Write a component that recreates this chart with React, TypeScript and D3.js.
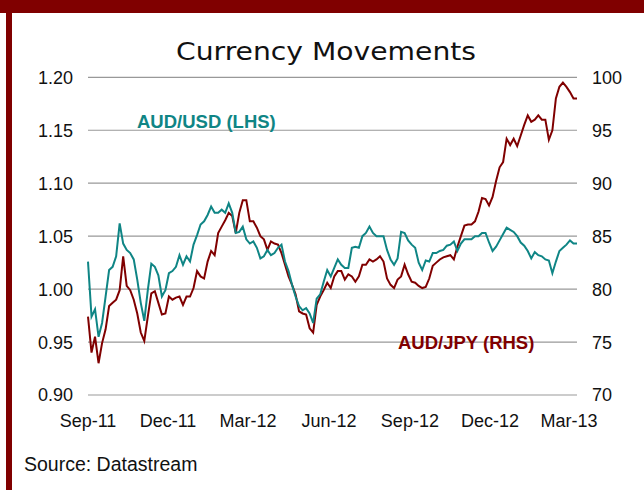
import React from 'react';
import * as d3 from 'd3';

// ---- data (sampled every 4 days from 1 Sep 2011) ----
const START = new Date(2011, 8, 1);
const END = new Date(2013, 2, 10);
const STEP_DAYS = 4;

const audUsd = [
  1.026, 0.974, 0.981, 0.955, 0.968, 0.993, 1.018, 1.021, 1.031, 1.062, 1.043, 1.037,
  1.034, 1.028, 1.009, 0.987, 0.970, 0.999, 1.024, 1.021, 1.013, 0.993, 0.999, 1.015,
  1.017, 1.021, 1.032, 1.023, 1.031, 1.026, 1.042, 1.051, 1.061, 1.064, 1.070, 1.078,
  1.072, 1.072, 1.075, 1.072, 1.081, 1.072, 1.053, 1.054, 1.059, 1.047, 1.043, 1.045,
  1.039, 1.029, 1.031, 1.037, 1.032, 1.034, 1.039, 1.042, 1.026, 1.017, 1.004, 0.993,
  0.984, 0.980, 0.982, 0.977, 0.968, 0.991, 0.995, 1.007, 1.018, 1.012, 1.020, 1.028,
  1.023, 1.020, 1.020, 1.039, 1.040, 1.039, 1.050, 1.053, 1.059, 1.053, 1.050, 1.050,
  1.050, 1.037, 1.028, 1.023, 1.029, 1.054, 1.053, 1.046, 1.042, 1.039,
  1.025, 1.018, 1.027, 1.026, 1.034, 1.034, 1.036, 1.037, 1.041, 1.042, 1.045, 1.036,
  1.043, 1.047, 1.047, 1.047, 1.050, 1.050, 1.053, 1.053, 1.044, 1.036, 1.040, 1.046,
  1.052, 1.058, 1.056, 1.054, 1.050, 1.044, 1.041, 1.036, 1.029, 1.035, 1.032, 1.031,
  1.028, 1.027, 1.015, 1.026, 1.036, 1.039, 1.042, 1.046, 1.043, 1.043,
];

const audJpy = [
  77.4, 74.0, 75.5, 73.0, 74.9, 76.2, 78.4, 78.7, 79.0, 79.9, 83.1, 80.3,
  79.9, 79.0, 77.7, 75.9, 75.1, 77.4, 79.6, 79.8, 78.7, 77.6, 77.7, 79.3,
  79.0, 79.2, 79.3, 78.5, 79.3, 79.3, 80.1, 81.7, 81.2, 81.0, 82.6, 83.6,
  83.2, 85.3, 85.9, 86.5, 87.2, 86.9, 85.3, 87.2, 88.4, 88.4, 86.4, 86.4,
  85.8, 85.0, 84.7, 83.7, 84.5, 84.3, 84.2, 83.4, 82.3, 81.2, 80.4, 79.5,
  77.9, 77.7, 77.6, 76.3, 75.9, 78.5, 79.3, 79.9, 80.6, 80.1, 81.2, 81.7,
  81.7, 80.9, 81.4, 81.2, 80.7, 81.2, 82.3, 82.3, 82.8, 82.6, 82.8, 83.1,
  82.6, 81.0, 80.4, 80.1, 80.9, 81.2, 82.3, 81.4, 80.7, 80.6,
  80.3, 80.1, 80.2, 81.0, 82.2, 82.5, 82.8, 83.0, 83.1, 83.2, 82.8, 84.0,
  85.0, 86.0, 86.1, 86.1, 86.4, 87.3, 88.6, 88.5, 87.9, 88.7, 90.2, 91.5,
  92.0, 94.2, 93.6, 94.2, 93.5, 94.5, 95.5, 96.4, 95.8, 96.0, 96.4, 96.0,
  96.0, 94.1, 95.0, 98.0, 99.1, 99.5, 99.1, 98.6, 98.0, 98.0,
];

const leftTicks = [0.9, 0.95, 1.0, 1.05, 1.1, 1.15, 1.2];
const rightTicks = [70, 75, 80, 85, 90, 95, 100];
const xTickLabels = ['Sep-11', 'Dec-11', 'Mar-12', 'Jun-12', 'Sep-12', 'Dec-12', 'Mar-13'];
const xTickDates = [
  new Date(2011, 8, 1), new Date(2011, 11, 1), new Date(2012, 2, 1), new Date(2012, 5, 1),
  new Date(2012, 8, 1), new Date(2012, 11, 1), new Date(2013, 2, 1),
];

const TEAL = '#0f8585';
const MAROON = '#800000';
const FONT = '"Liberation Sans", Arial, sans-serif';

export default function App() {
  const W = 644;
  const H = 490;
  const left = 88;
  const right = 577;
  const top = 77.3;
  const bottom = 395;

  const x = d3.scaleTime().domain([START, END]).range([left, right]);
  const yL = d3.scaleLinear().domain([0.9, 1.2]).range([bottom, top]);
  const yR = d3.scaleLinear().domain([70, 100]).range([bottom, top]);

  const dates = audUsd.map((_, i) => d3.timeDay.offset(START, i * STEP_DAYS));

  const usdLine = d3.line<number>().x((_, i) => x(dates[i])).y((d) => yL(d));
  const jpyLine = d3.line<number>().x((_, i) => x(dates[i])).y((d) => yR(d));

  return (
    <svg
      width={W}
      height={H}
      style={{ position: 'absolute', left: 0, top: 0, background: '#fff' }}
      fontFamily={FONT}
    >
      <rect x={0} y={0} width={W} height={H} fill="#fff" />
      <rect x={0} y={0} width={W} height={13} fill={MAROON} />
      <rect x={6} y={0} width={6} height={H} fill={MAROON} />

      <text
        x={326}
        y={60}
        textAnchor="middle"
        fontSize={25}
        fontFamily='"DejaVu Sans", sans-serif'
        fill="#111"
        textLength={300}
        lengthAdjust="spacingAndGlyphs"
      >
        Currency Movements
      </text>

      {leftTicks.map((t) => (
        <line key={'g' + t} x1={left} x2={right} y1={yL(t)} y2={yL(t)} stroke="#999" strokeWidth={1.2} />
      ))}

      {leftTicks.map((t) => (
        <text key={'l' + t} x={73} y={yL(t)} dy="0.36em" textAnchor="end" fontSize={18} fill="#111">
          {d3.format('.2f')(t)}
        </text>
      ))}
      {rightTicks.map((t) => (
        <text key={'r' + t} x={592} y={yR(t)} dy="0.36em" textAnchor="start" fontSize={18} fill="#111">
          {t}
        </text>
      ))}
      {xTickDates.map((d, i) => (
        <text key={'x' + i} x={x(d)} y={427} textAnchor="middle" fontSize={18} fill="#111">
          {xTickLabels[i]}
        </text>
      ))}

      <path d={jpyLine(audJpy) || ''} fill="none" stroke={MAROON} strokeWidth={2} strokeLinejoin="miter" />
      <path d={usdLine(audUsd) || ''} fill="none" stroke={TEAL} strokeWidth={2} strokeLinejoin="miter" />

      <text x={137} y={128} fontSize={18.5} fontWeight="bold" fill={TEAL}>
        AUD/USD (LHS)
      </text>
      <text x={398} y={349} fontSize={18.5} fontWeight="bold" fill={MAROON}>
        AUD/JPY (RHS)
      </text>

      <text x={24} y={471} fontSize={19.5} fill="#111">
        Source: Datastream
      </text>
    </svg>
  );
}
